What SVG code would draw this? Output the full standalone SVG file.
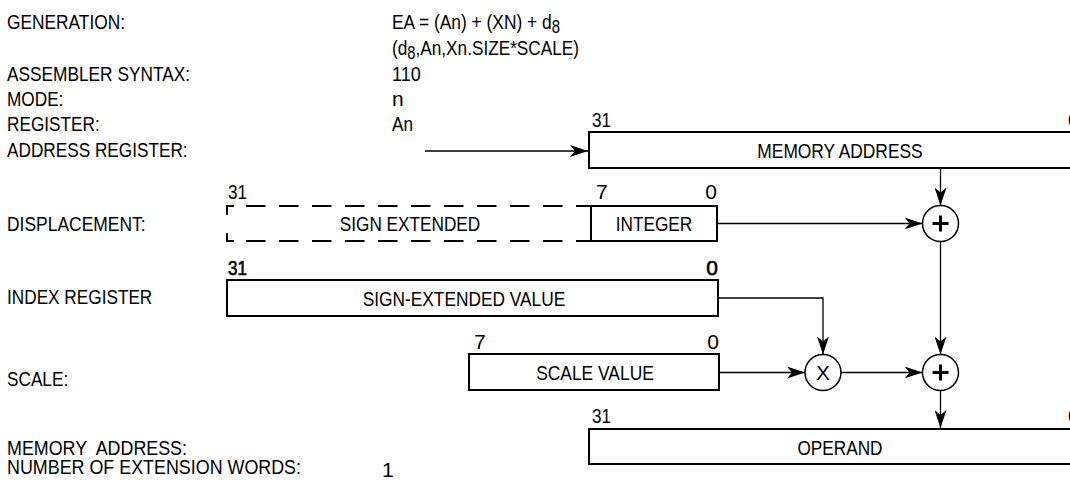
<svg xmlns="http://www.w3.org/2000/svg" width="1070" height="483" viewBox="0 0 1070 483">
<style>
.t{font-family:"Liberation Sans Narrow","Arial Narrow","Liberation Sans",Arial,sans-serif;font-size:21px;fill:#000}
.m{text-anchor:middle}
.e{text-anchor:end}
.b{stroke:#000;stroke-width:0.6}
.box{fill:#fff;stroke:#000;stroke-width:2}
.ln{fill:none;stroke:#000;stroke-width:1.3}
.dash{fill:none;stroke:#000;stroke-width:2}
.circ{fill:#fff;stroke:#000;stroke-width:1.5}
.plus{fill:none;stroke:#000;stroke-width:3}
</style>
<defs>
<marker id="arr" viewBox="0 0 18 12" refX="18" refY="6" markerWidth="18" markerHeight="12" markerUnits="userSpaceOnUse" orient="auto">
<path d="M0,0 L18,6 L0,12 L5,6 Z" fill="#000"/>
</marker>
</defs>
<rect width="1070" height="483" fill="#fff"/>

<g id="labels">
<text class="t" x="7" y="29" textLength="118" lengthAdjust="spacingAndGlyphs">GENERATION:</text>
<text class="t" x="392" y="29" textLength="168" lengthAdjust="spacingAndGlyphs">EA = (An) + (XN) + d<tspan font-size="18" dy="4">8</tspan></text>
<text class="t" x="392" y="55" textLength="187" lengthAdjust="spacingAndGlyphs">(d<tspan font-size="18" dy="4">8</tspan><tspan dy="-4">,An,Xn.SIZE*SCALE)</tspan></text>
<text class="t" x="7" y="81" textLength="183" lengthAdjust="spacingAndGlyphs">ASSEMBLER SYNTAX:</text>
<text class="t" x="392" y="81" textLength="28.7" lengthAdjust="spacingAndGlyphs">110</text>
<text class="t" x="7" y="106" textLength="56.4" lengthAdjust="spacingAndGlyphs">MODE:</text>
<text class="t" x="392" y="106">n</text>
<text class="t" x="7" y="131" textLength="92.7" lengthAdjust="spacingAndGlyphs">REGISTER:</text>
<text class="t" x="392" y="131" textLength="21" lengthAdjust="spacingAndGlyphs">An</text>
<text class="t" x="7" y="157" textLength="180.6" lengthAdjust="spacingAndGlyphs">ADDRESS REGISTER:</text>
<text class="t" x="7" y="231" textLength="138.6" lengthAdjust="spacingAndGlyphs">DISPLACEMENT:</text>
<text class="t" x="7" y="304" textLength="145.3" lengthAdjust="spacingAndGlyphs">INDEX REGISTER</text>
<text class="t" x="7" y="386" textLength="61.2" lengthAdjust="spacingAndGlyphs">SCALE:</text>
<text class="t" x="7" y="455" textLength="180" lengthAdjust="spacingAndGlyphs" xml:space="preserve">MEMORY  ADDRESS:</text>
<text class="t" x="7" y="474" textLength="294" lengthAdjust="spacingAndGlyphs">NUMBER OF EXTENSION WORDS:</text>
<text class="t" x="382" y="477">1</text>
</g>

<g id="connectors">
<line class="ln" x1="425" y1="151" x2="588" y2="151" marker-end="url(#arr)"/>
<line class="ln" x1="940.5" y1="168" x2="940.5" y2="205.5" marker-end="url(#arr)"/>
<line class="ln" x1="718" y1="223.5" x2="922.5" y2="223.5" marker-end="url(#arr)"/>
<line class="ln" x1="940.5" y1="241.5" x2="940.5" y2="354.5" marker-end="url(#arr)"/>
<polyline class="ln" points="719,298 823,298 823,354.5" marker-end="url(#arr)"/>
<line class="ln" x1="720" y1="372.5" x2="805" y2="372.5" marker-end="url(#arr)"/>
<line class="ln" x1="841" y1="372.5" x2="922.5" y2="372.5" marker-end="url(#arr)"/>
<line class="ln" x1="940.5" y1="390.5" x2="940.5" y2="428" marker-end="url(#arr)"/>
</g>

<g id="memory-address">
<rect class="box" x="589" y="132" width="500" height="36"/>
<text class="t" x="592" y="127" textLength="19" lengthAdjust="spacingAndGlyphs">31</text>
<text class="t" x="1068" y="127">0</text>
<text class="t m" x="840" y="158" textLength="165.3" lengthAdjust="spacingAndGlyphs">MEMORY ADDRESS</text>
</g>

<g id="sign-extended">
<path class="dash" d="M227,215 V206 H234 M227,233 V241 H234"/>
<line class="dash" x1="246" y1="206" x2="591" y2="206" stroke-dasharray="19.5 13.5"/>
<line class="dash" x1="246" y1="241" x2="591" y2="241" stroke-dasharray="19.5 13.5"/>
<text class="t" x="228" y="199" textLength="19" lengthAdjust="spacingAndGlyphs">31</text>
<text class="t m" x="410" y="231" textLength="140.5" lengthAdjust="spacingAndGlyphs">SIGN EXTENDED</text>
</g>

<g id="integer">
<rect class="box" x="591" y="206" width="126" height="35"/>
<text class="t" x="596" y="199">7</text>
<text class="t e" x="717" y="199">0</text>
<text class="t m" x="654" y="231" textLength="76.5" lengthAdjust="spacingAndGlyphs">INTEGER</text>
</g>

<g id="index-register">
<rect class="box" x="227" y="280" width="491" height="36"/>
<text class="t b" x="228" y="275" textLength="19" lengthAdjust="spacingAndGlyphs">31</text>
<text class="t e b" x="718" y="275">0</text>
<text class="t m" x="464" y="305.5" textLength="202.6" lengthAdjust="spacingAndGlyphs">SIGN-EXTENDED VALUE</text>
</g>

<g id="scale-value">
<rect class="box" x="469" y="354" width="250" height="36"/>
<text class="t" x="474" y="349">7</text>
<text class="t e" x="719" y="349">0</text>
<text class="t m" x="595" y="380" textLength="117.6" lengthAdjust="spacingAndGlyphs">SCALE VALUE</text>
</g>

<g id="plus-1">
<circle class="circ" cx="940.5" cy="223.5" r="18"/>
<path class="plus" d="M932.5,223.5 H948.5 M940.5,215.5 V231.5"/>
</g>

<g id="multiply">
<circle class="circ" cx="823" cy="372.5" r="18"/>
<text class="t m" x="823" y="380">X</text>
</g>

<g id="plus-2">
<circle class="circ" cx="940.5" cy="372.5" r="18"/>
<path class="plus" d="M932.5,372.5 H948.5 M940.5,364.5 V380.5"/>
</g>

<g id="operand">
<rect class="box" x="589" y="429" width="500" height="35"/>
<text class="t" x="592" y="423" textLength="19" lengthAdjust="spacingAndGlyphs">31</text>
<text class="t" x="1068" y="423">0</text>
<text class="t m" x="840" y="455" textLength="85" lengthAdjust="spacingAndGlyphs">OPERAND</text>
</g>
</svg>
